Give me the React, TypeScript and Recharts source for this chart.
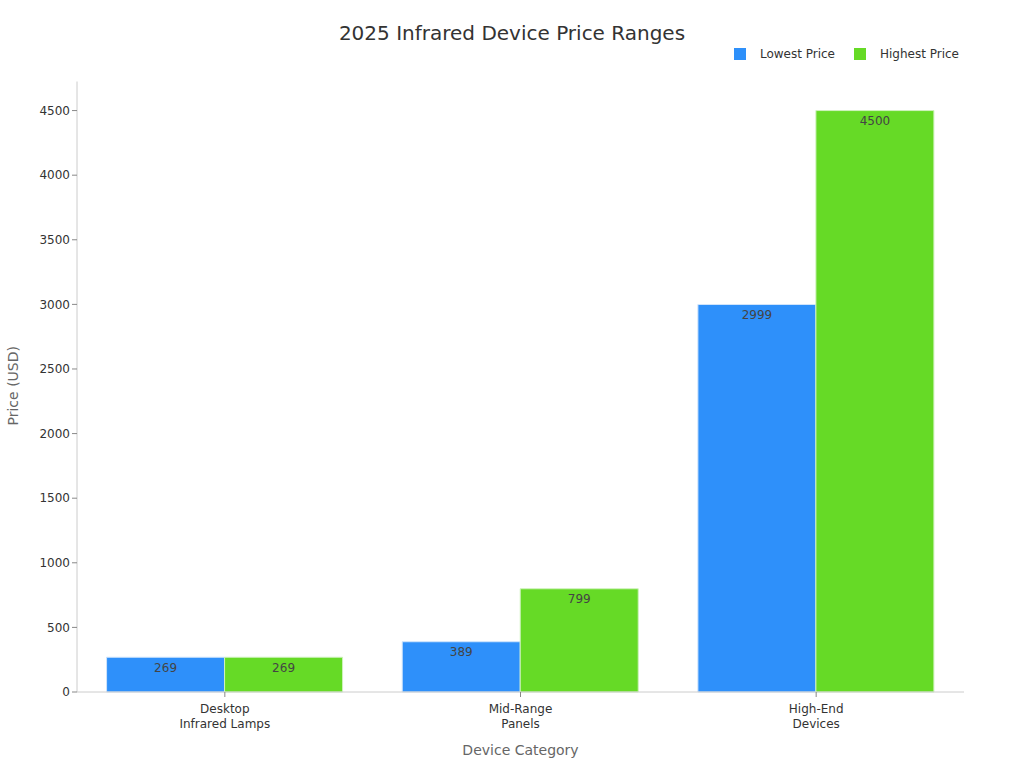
import React from 'react';
import { BarChart, Bar, XAxis, YAxis, Legend, LabelList } from 'recharts';

const categories = ['Desktop\nInfrared Lamps', 'Mid-Range\nPanels', 'High-End\nDevices'];
const lowestPrice = [269, 389, 2999];
const highestPrice = [269, 799, 4500];
const yTicks = [0, 500, 1000, 1500, 2000, 2500, 3000, 3500, 4000, 4500];

const data = categories.map((name, i) => ({
  name,
  lowest: lowestPrice[i],
  highest: highestPrice[i],
}));

const FONT = '"DejaVu Sans", sans-serif';

const CategoryTick = ({ x, y, payload }: any) => (
  <text x={x} y={y} textAnchor="middle" fontFamily={FONT} fontSize={12} fill="#333">
    {String(payload.value).split('\n').map((line, i) => (
      <tspan key={line} x={x} dy={i === 0 ? 14 : 15}>{line}</tspan>
    ))}
  </text>
);

const LegendContent = ({ payload }: any) => (
  <div style={{ display: 'flex', fontFamily: FONT, fontSize: 12, color: '#333', lineHeight: '14px' }}>
    {(payload || []).map((entry: any) => (
      <div key={entry.value} style={{ display: 'flex', alignItems: 'center', marginLeft: 19 }}>
        <span style={{ width: 12, height: 12, background: entry.color, marginRight: 14, marginTop: -1, display: 'inline-block' }} />
        {entry.value}
      </div>
    ))}
  </div>
);

export default function App() {
  return (
    <div style={{ position: 'absolute', left: 0, top: 0, width: 1024, height: 768, background: '#fff' }}>
      <div style={{ position: 'absolute', left: 0, top: 20, width: 1024, textAlign: 'center', fontFamily: FONT, fontSize: 20, lineHeight: '26px', color: '#333' }}>
        2025 Infrared Device Price Ranges
      </div>
      <BarChart
        width={1024}
        height={768}
        data={data}
        margin={{ top: 67.5, right: 60, bottom: 0, left: 0 }}
        barCategoryGap="10%"
        barGap={0}
      >
        <XAxis
          dataKey="name"
          height={76}
          interval={0}
          tick={<CategoryTick />}
          tickSize={5}
          axisLine={{ stroke: '#ccc' }}
          tickLine={{ stroke: '#888' }}
          label={{ value: 'Device Category', position: 'insideBottom', offset: 13, fontFamily: FONT, fontSize: 14, fill: '#666' }}
        />
        <YAxis
          width={77}
          domain={[0, 4725]}
          ticks={yTicks}
          tickSize={5}
          tick={{ fontFamily: FONT, fontSize: 12, fill: '#333' }}
          axisLine={{ stroke: '#ccc' }}
          tickLine={{ stroke: '#888' }}
          label={{ value: 'Price (USD)', angle: -90, position: 'insideLeft', offset: 13, dy: -1, fontFamily: FONT, fontSize: 14, fill: '#666', style: { textAnchor: 'middle' } }}
        />
        <Legend
          verticalAlign="top"
          align="right"
          itemSorter={null as any}
          content={<LegendContent />}
          wrapperStyle={{ top: 47, right: 65, left: 'auto', width: 'auto' }}
        />
        <Bar dataKey="lowest" name="Lowest Price" fill="#2e90fa" stroke="#cfe4fb" strokeWidth={1} isAnimationActive={false}>
          <LabelList dataKey="lowest" position="insideTop" offset={6} fontFamily={FONT} fontSize={12} fill="#444" stroke="none" />
        </Bar>
        <Bar dataKey="highest" name="Highest Price" fill="#66da26" stroke="#cff2bd" strokeWidth={1} isAnimationActive={false}>
          <LabelList dataKey="highest" position="insideTop" offset={6} fontFamily={FONT} fontSize={12} fill="#444" stroke="none" />
        </Bar>
      </BarChart>
    </div>
  );
}
